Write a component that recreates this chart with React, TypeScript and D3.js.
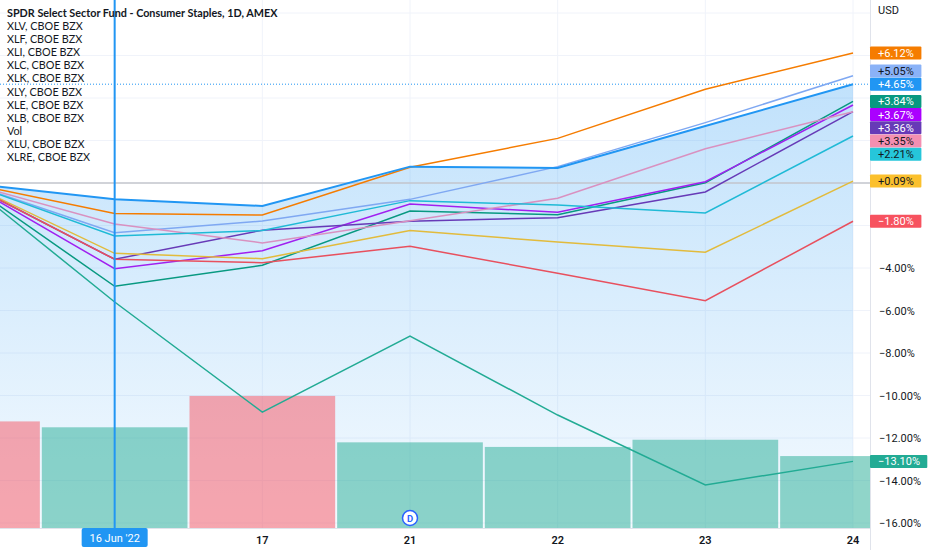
import * as d3 from 'd3';

const W = 932;
const H = 550;
const PLOT = { left: 0, right: 870, top: 0, bottom: 528 };

// trading days shown on the time axis (15 Jun is the base bar, partly off-screen)
const DATES = ['15', '16', '17', '21', '22', '23', '24'];
const CROSSHAIR_DAY = 1;
const CROSSHAIR_LABEL = "16 Jun '22";
const DIVIDEND_DAY = 3;

// percent change vs. first bar
const XLP = [0, -0.77, -1.08, 0.77, 0.71, 2.68, 4.65];
const XLU = [0, -1.44, -1.51, 0.74, 2.1, 4.41, 6.12];
const XLRE = [0, -2.34, -1.79, -0.77, 0.77, 2.84, 5.05];
const XLY = [0, -4.86, -3.87, -1.32, -1.49, 0.01, 3.84];
const XLK = [0, -4.03, -3.19, -0.99, -1.38, 0.06, 3.67];
const XLC = [0, -3.59, -2.22, -1.8, -1.63, -0.42, 3.36];
const XLV = [0, -1.93, -2.82, -1.78, -0.72, 1.61, 3.35];
const XLI = [0, -2.49, -2.24, -0.83, -1.04, -1.41, 2.21];
const XLF = [0, -3.31, -3.56, -2.24, -2.78, -3.26, 0.09];
const XLB = [0, -3.59, -3.75, -2.98, -4.25, -5.54, -1.8];
const XLE = [0, -5.6, -10.78, -7.2, -10.92, -14.21, -13.1];

// XLP volume, millions
const VOLUME = [16.3, 15.4, 20.2, 13.1, 12.4, 13.5, 11.0];
const VOLUME_UP = [false, true, false, true, true, true, true];

const Y_GRID = [8, 6, 4, 2, 0, -2, -4, -6, -8, -10, -12, -14, -16];
const Y_LABELS = [6, 4, 2, 0, -2, -4, -6, -8, -10, -12, -14, -16];

const LEGEND = [
  'XLV, CBOE BZX',
  'XLF, CBOE BZX',
  'XLI, CBOE BZX',
  'XLC, CBOE BZX',
  'XLK, CBOE BZX',
  'XLY, CBOE BZX',
  'XLE, CBOE BZX',
  'XLB, CBOE BZX',
  'Vol',
  'XLU, CBOE BZX',
  'XLRE, CBOE BZX',
];
const TITLE = 'SPDR Select Sector Fund - Consumer Staples, 1D, AMEX';

const MAIN_COLOR = '#2196F3';
const UP_COLOR = 'rgba(34,171,148,0.5)';
const DOWN_COLOR = 'rgba(247,82,95,0.5)';

type Series = { name: string; values: number[]; line: string; label: string; dark?: boolean };

const COMPARE: Series[] = [
  { name: 'XLU', values: XLU, line: '#F57C00', label: '#F57C00' },
  { name: 'XLRE', values: XLRE, line: '#7FA8F2', label: '#8AB2F7', dark: true },
  { name: 'XLY', values: XLY, line: '#089981', label: '#089981' },
  { name: 'XLK', values: XLK, line: '#A020F0', label: '#AA00FF' },
  { name: 'XLC', values: XLC, line: '#673AB7', label: '#673AB7' },
  { name: 'XLV', values: XLV, line: '#D991C0', label: '#F48FB1', dark: true },
  { name: 'XLI', values: XLI, line: '#1FBAD6', label: '#26C6DA', dark: true },
  { name: 'XLF', values: XLF, line: '#E2BB3C', label: '#FBC02D', dark: true },
  { name: 'XLB', values: XLB, line: '#E8505E', label: '#F7525F' },
  { name: 'XLE', values: XLE, line: '#22AB94', label: '#22AB94' },
];

const fmt = (v: number) => (v >= 0 ? '+' : '\u2212') + Math.abs(v).toFixed(2) + '%';
const fmtTick = (v: number) => (v < 0 ? '\u2212' : '') + Math.abs(v).toFixed(2) + '%';

export default function App() {
  const x = d3.scaleLinear().domain([0, DATES.length - 1]).range([-33, 853]);
  const y = d3.scaleLinear().domain([-16, 6]).range([523, 55.5]);
  const yVol = d3.scaleLinear().domain([0, 26]).range([PLOT.bottom, PLOT.bottom - 170]);
  const step = x(1) - x(0);

  const line = d3
    .line<number>()
    .x((_, i) => x(i))
    .y((d) => y(d));
  const area = d3
    .area<number>()
    .x((_, i) => x(i))
    .y0(PLOT.bottom)
    .y1((d) => y(d));

  // price labels on the right scale, pushed apart around the main series
  const all = [
    { name: 'XLP', v: XLP[XLP.length - 1], bg: MAIN_COLOR, dark: false, main: true },
    ...COMPARE.map((s) => ({ name: s.name, v: s.values[s.values.length - 1], bg: s.label, dark: !!s.dark, main: false })),
  ].sort((a, b) => b.v - a.v);
  const gap = 13.2;
  const mainIdx = all.findIndex((d) => d.main);
  const pos = all.map((d) => y(d.v));
  for (let i = mainIdx + 1; i < all.length; i++) pos[i] = Math.max(pos[i], pos[i - 1] + gap);
  for (let i = mainIdx - 1; i >= 0; i--) pos[i] = Math.min(pos[i], pos[i + 1] - gap);

  // tick labels that sit under a series label are hidden, as on the chart
  const freeTicks = Y_LABELS.filter((t) => pos.every((p) => Math.abs(p - y(t)) > 11));

  const axisFont = 'Roboto, "DejaVu Sans", sans-serif';
  const legendFont = 'Lato, "Open Sans", sans-serif';

  return (
    <svg width={W} height={H} style={{ position: 'absolute', left: 0, top: 0, background: '#fff' }}>
      <defs>
        <clipPath id="plot">
          <rect x={PLOT.left} y={PLOT.top} width={PLOT.right - PLOT.left} height={PLOT.bottom - PLOT.top} />
        </clipPath>
        <linearGradient id="areaFill" x1="0" y1="0" x2="0" y2="1">
          <stop offset="0%" stopColor={MAIN_COLOR} stopOpacity={0.28} />
          <stop offset="100%" stopColor={MAIN_COLOR} stopOpacity={0.05} />
        </linearGradient>
      </defs>

      {/* grid */}
      <g stroke="#F0F3FA" strokeWidth={1}>
        {Y_GRID.map((t) => (
          <line key={t} x1={PLOT.left} x2={PLOT.right} y1={y(t)} y2={y(t)} />
        ))}
        {DATES.map((d, i) => (
          <line key={d} x1={x(i)} x2={x(i)} y1={PLOT.top} y2={PLOT.bottom} />
        ))}
      </g>

      <g clipPath="url(#plot)">
        <path d={area(XLP) ?? ''} fill="url(#areaFill)" />
        {VOLUME.map((v, i) => (
          <rect
            key={i}
            x={x(i) - step / 2 + 1}
            width={step - 2}
            y={yVol(v)}
            height={PLOT.bottom - yVol(v)}
            fill={VOLUME_UP[i] ? UP_COLOR : DOWN_COLOR}
          />
        ))}
        <line x1={PLOT.left} x2={PLOT.right} y1={y(0)} y2={y(0)} stroke="#C4C6CC" strokeWidth={1.5} />
        <line
          x1={PLOT.left}
          x2={PLOT.right}
          y1={y(XLP[XLP.length - 1])}
          y2={y(XLP[XLP.length - 1])}
          stroke={MAIN_COLOR}
          strokeWidth={1}
          strokeDasharray="1,2"
        />
        {COMPARE.map((s) => (
          <path key={s.name} d={line(s.values) ?? ''} fill="none" stroke={s.line} strokeWidth={1.5} />
        ))}
        <path d={line(XLP) ?? ''} fill="none" stroke={MAIN_COLOR} strokeWidth={2} />
        <line x1={x(CROSSHAIR_DAY)} x2={x(CROSSHAIR_DAY)} y1={0} y2={PLOT.bottom} stroke={MAIN_COLOR} strokeWidth={2} />
      </g>

      {/* dividend marker */}
      <g transform={`translate(${x(DIVIDEND_DAY)},518)`}>
        <circle r={7.5} fill="#fff" stroke="#2962FF" strokeWidth={1.5} />
        <text y={3.5} textAnchor="middle" fontSize={9.5} fontWeight={700} fill="#2962FF" fontFamily={axisFont}>
          D
        </text>
      </g>

      {/* axes borders */}
      <line x1={PLOT.right + 0.5} x2={PLOT.right + 0.5} y1={0} y2={H} stroke="#E0E3EB" />
      <line x1={0} x2={PLOT.right} y1={PLOT.bottom + 0.5} y2={PLOT.bottom + 0.5} stroke="#E0E3EB" />

      {/* time axis */}
      <g fontFamily={axisFont} fontSize={11} fontWeight={600} fill="#131722" textAnchor="middle">
        {DATES.map((d, i) =>
          i === CROSSHAIR_DAY || x(i) < 0 ? null : (
            <text key={d} x={x(i)} y={544}>
              {d}
            </text>
          ),
        )}
      </g>
      <rect x={x(CROSSHAIR_DAY) - 33} y={PLOT.bottom} width={66} height={19} rx={2} fill={MAIN_COLOR} />
      <text x={x(CROSSHAIR_DAY)} y={542} textAnchor="middle" fontFamily={axisFont} fontSize={11} fill="#fff">
        {CROSSHAIR_LABEL}
      </text>

      {/* price axis */}
      <text x={878} y={14} fontFamily={axisFont} fontSize={11} fill="#131722">
        USD
      </text>
      <g fontFamily={axisFont} fontSize={11} fill="#131722">
        {freeTicks.map((t) => (
          <text key={t} x={879} y={y(t) + 4}>
            {fmtTick(t)}
          </text>
        ))}
      </g>
      <g fontFamily={axisFont} fontSize={11}>
        {all.map((d, i) => {
          const txt = fmt(d.v);
          const w = 16 + txt.length * 5.9;
          return (
            <g key={d.name} transform={`translate(${PLOT.right},${pos[i]})`}>
              <rect x={0} y={-6.5} width={w} height={13} rx={1} fill={d.bg} />
              <text x={8} y={4} fill={d.dark ? '#131722' : '#fff'}>
                {txt}
              </text>
            </g>
          );
        })}
      </g>

      {/* legend */}
      <g fontFamily={legendFont} fontSize={10.8} fill="#131722">
        <text x={7} y={17} fontWeight={700}>
          {TITLE}
        </text>
        {LEGEND.map((l, i) => (
          <text key={l} x={7} y={30 + i * 13.1}>
            {l}
          </text>
        ))}
      </g>
    </svg>
  );
}
